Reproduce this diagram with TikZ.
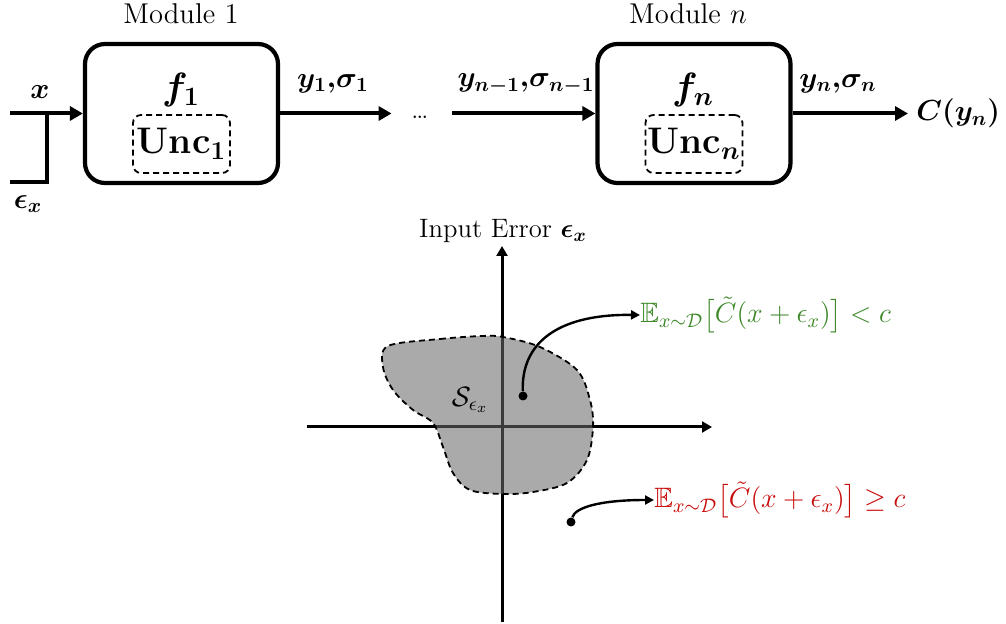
\RequirePackage{fix-cm}
\documentclass[tikz,border=0pt]{standalone}
\usepackage{amsmath,amssymb,bm}
\usetikzlibrary{arrows.meta}
\definecolor{mygreen}{RGB}{60,135,40}
\definecolor{myred}{RGB}{200,10,10}
\definecolor{blobfill}{RGB}{105,105,105}
\tikzset{
  module/.style={draw, line width=2.1pt, rounded corners=10pt, minimum width=96.5pt, minimum height=69.5pt, inner sep=0pt},
  uncbox/.style={draw, dashed, line width=0.9pt, dash pattern=on 3pt off 2pt, rounded corners=4pt, minimum width=48.5pt, minimum height=29pt, inner sep=0pt, font=\fontsize{18.5}{21}\selectfont},
  bigmath/.style={inner sep=0pt, font=\fontsize{19}{22}\selectfont},
  modlabel/.style={inner sep=0pt, font=\fontsize{14.3}{16}\selectfont},
  lab/.style={inner sep=0pt, font=\fontsize{14.5}{17}\selectfont},
  formula/.style={inner sep=0pt, anchor=west, font=\fontsize{14}{17}\selectfont},
  arr/.style={line width=2pt, -{Triangle[length=6.5pt,width=7pt]}},
  thickline/.style={line width=2pt},
  axis/.style={line width=1.5pt, -{Triangle[length=5pt,width=5.5pt]}},
  carr/.style={line width=1.2pt, -{Triangle[length=4.5pt,width=4.5pt]}},
  dotst/.style={circle, fill=black, inner sep=0pt, minimum size=4.5pt},
  blob/.style={draw, dashed, dash pattern=on 3pt off 2pt, line width=0.9pt, fill=blobfill, fill opacity=0.57}
}
\begin{document}
\begin{tikzpicture}[x=0.5pt,y=-0.5pt]
\useasboundingbox (0,0) rectangle (1006,624);
% ---------- Module 1 ----------
\node[module] (m1) at (181.5,113.5) {};
\node[modlabel] (m1t) at (181,14) {Module 1};
\node[bigmath] (f1) at (181,90) {$\bm{f_1}$};
\node[uncbox] (u1) at (181.5,144) {\textbf{Unc}$_{\bm{1}}$};
% input
\coordinate (inL) at (10,113.5);
\coordinate (inJ) at (47,113.5);
\coordinate (epsB) at (47,182);
\coordinate (epsL) at (10,182);
\draw[arr] (inL) -- (m1.west);
\draw[thickline] (inJ) -- (epsB) -- (epsL);
\node[lab] (xl) at (40,92) {$\bm{x}$};
\node[lab] (el) at (28,204) {$\bm{\epsilon_x}$};
% dots
\node[inner sep=0pt, minimum width=30pt, minimum height=1pt] (dots) at (422,113.5) {};
\node[inner sep=0pt, font=\fontsize{15}{17}\selectfont] (dtext) at (420,117) {\ldots};
\draw[arr] (m1.east) -- (dots.west);
\node[lab] (y1l) at (333,84) {$\bm{y_1{,}\sigma_1}$};
% ---------- Module n ----------
\node[module] (mn) at (694,113.5) {};
\node[modlabel] (mnt) at (688,14) {Module $n$};
\node[bigmath] (fn) at (693,90) {$\bm{f_n}$};
\node[uncbox] (un) at (694,144) {\textbf{Unc}$_{\bm{n}}$};
\draw[arr] (dots.east) -- (mn.west);
\node[lab] (ynm1) at (526,84) {$\bm{y_{n-1}{,}\sigma_{n-1}}$};
\node[lab, anchor=west, inner xsep=4pt] (cy) at (908,113.5) {$\bm{C(y_n)}$};
\draw[arr] (mn.east) -- (cy.west);
\node[lab] (ynl) at (838,84) {$\bm{y_n{,}\sigma_n}$};
% ---------- axes ----------
\coordinate (xL) at (307,427);
\coordinate (xR) at (712,427);
\coordinate (yB) at (502,622);
\coordinate (yT) at (502,246);
\draw[axis] (xL) -- (xR);
\draw[axis] (yB) -- (yT);
\node[inner sep=0pt, font=\fontsize{13.3}{16}\selectfont] (ylab) at (503,231) {Input Error $\bm{\epsilon_x}$};
% blob
\path[blob] plot[smooth cycle, tension=0.55] coordinates {
  (388,346) (440,339) (482,336) (503,337) (540,347) (577,370) (590,400)
  (593,427) (587,460) (567,483) (533,492) (503,494) (470,490) (453,473)
  (443,447) (433,423) (413,410) (393,390) (383,367)};
\node[inner sep=0pt, font=\fontsize{14}{17}\selectfont] (sl) at (470,400) {$\mathcal{S}_{\epsilon_x}$};
% points and labels
\node[dotst] (d1) at (523,396) {};
\node[formula, text=mygreen] (gl) at (640,315) {$\mathbb{E}_{x\sim\mathcal{D}}\big[\tilde{C}(x+\epsilon_x)\big] < c$};
\draw[carr] (d1) .. controls (521,345) and (555,314) .. (gl.west);
\node[dotst] (d2) at (571,522) {};
\node[formula, text=myred] (rl) at (654,500) {$\mathbb{E}_{x\sim\mathcal{D}}\big[\tilde{C}(x+\epsilon_x)\big] \geq c$};
\draw[carr] (d2) .. controls (575,508) and (598,500) .. (rl.west);
\end{tikzpicture}
\end{document}
